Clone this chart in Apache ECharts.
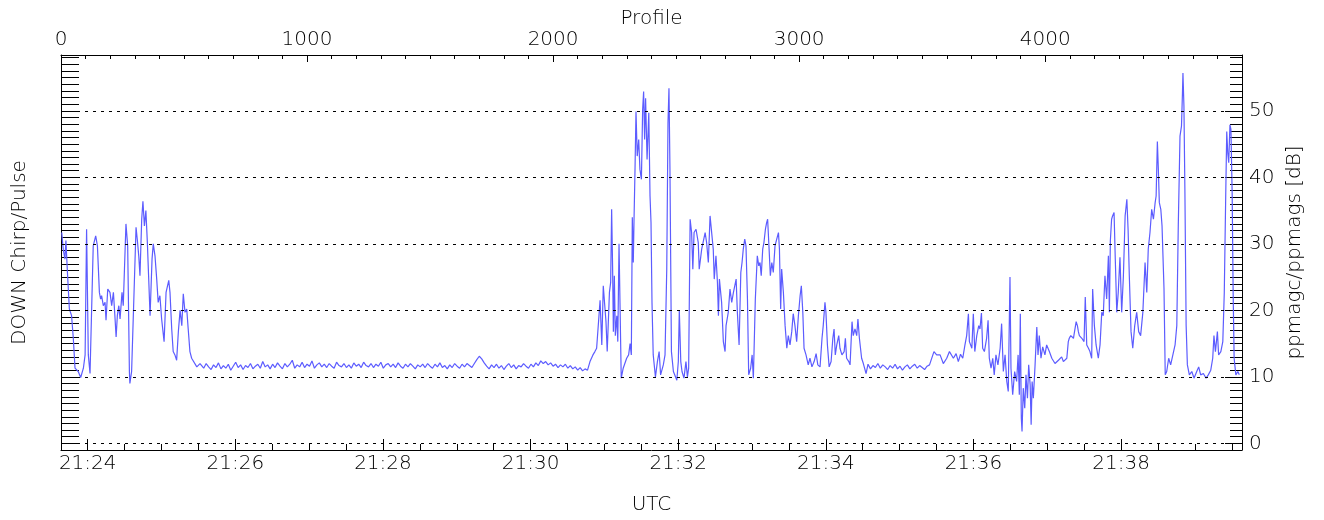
<!DOCTYPE html>
<html>
<head>
<meta charset="utf-8">
<script src="https://cdn.jsdelivr.net/npm/echarts@6/dist/echarts.min.js"></script>
<style>
  html, body { margin: 0; padding: 0; background: #fff; }
  #chart { width: 1324px; height: 520px; }
</style>
</head>
<body>
<div id="chart"></div>
<script>
// ---- tick labels ----
const profileLabels = [0, 1000, 2000, 3000, 4000];
const utcLabels = ['21:24', '21:26', '21:28', '21:30', '21:32', '21:34', '21:36', '21:38'];
const dbLabels = [0, 10, 20, 30, 40, 50];

// ---- ppmagc/ppmags ratio [dB] against profile number ----
const burstA = [
  [3,31.7],[9,29.2],[16,27.7],[20,30.5],[26,25.8],[34,20.2],[43,19.2],[50,15.8],[57,11.3],[70,10.8],
  [80,9.9],[91,11.3],[98,13.3],[104,32.2],[111,13.3],[118,10.5],[125,10.3],[131,29.7],[141,31.2],[148,29.7],
  [156,22.7],[161,21.7],[165,22.2],[172,20.7],[179,21.2],[183,18.5],[190,23.2],[199,22.7],[206,20.7],[213,22.7],
  [219,19.2],[224,16.0],[229,19.2],[235,20.7],[240,18.7],[248,22.7],[253,20.7],[264,33.0],[271,29.7],[278,10.8],
  [280,9.0],[287,10.8],[294,10.8],[305,32.5],[310,30.7],[316,28.2],[321,25.2],[328,33.7],[333,36.4],[339,32.7],
  [345,35.0],[351,30.2],[356,25.2],[362,19.2],[370,27.7],[375,30.0],[382,28.2],[389,24.7],[395,21.2],[402,22.2],
  [409,18.7],[419,15.3],[427,22.7],[438,24.5],[443,22.7],[450,17.2],[456,13.8],[463,13.3],[470,12.5],[477,16.8],
  [484,20.0],[491,17.7],[497,22.5],[504,19.7],[511,20.2],[517,17.2],[524,13.8],[531,12.8],[538,12.5],[552,11.5],
  [565,12.0]
];

// quiet stretch, one value every 10 profiles starting at profile 570
const calmA = { start: 570, step: 10, values: [
  11.9, 11.3, 12.0, 11.5, 11.1, 11.8, 11.4, 12.1, 11.2, 11.7,
  11.3, 11.9, 11.0, 11.6, 12.2, 11.4, 11.8, 11.1, 11.7, 11.4,
  12.0, 11.2, 11.6, 11.9, 11.3, 12.3, 11.5, 11.8, 11.2, 11.9,
  11.4, 12.1, 11.6, 11.2, 12.0, 11.5, 11.9, 12.5, 11.3, 11.8,
  11.5, 12.2, 11.4, 11.9, 11.6, 12.4, 11.3, 11.8, 12.1, 11.5,
  11.9, 11.4, 12.0, 11.6, 11.3, 12.2, 11.7, 11.5, 12.0, 11.4,
  11.8, 11.3, 12.1, 11.6, 11.9, 11.4, 12.2, 11.7, 11.5, 12.0,
  11.4, 11.9, 11.6, 12.2, 11.3, 11.8, 12.0, 11.5, 11.9, 11.4,
  12.1, 11.6, 11.3, 11.9, 11.5, 12.0, 11.6, 11.2, 11.8, 11.5,
  11.9, 11.4, 12.0, 11.6, 11.3, 11.9, 11.5, 12.1, 11.4, 11.7,
  11.2, 11.8, 11.4, 12.0, 11.6, 11.3, 11.9, 11.5, 12.0, 11.7,
  11.4, 12.0, 12.6, 13.1, 12.7, 12.1, 11.6, 11.2, 11.8, 11.4,
  11.9, 11.3, 11.7, 11.1, 11.6, 12.0, 11.4, 11.8, 11.2, 11.7,
  11.5, 12.0, 11.6, 11.3, 11.9, 11.5, 12.1, 11.7, 12.4, 12.0,
  12.3, 11.8, 12.1, 11.6, 11.9, 11.4, 11.8, 11.5, 11.9, 11.3,
  11.7, 11.2, 11.5, 11.0, 11.4, 10.9, 11.2, 11.0
]};

const burstB = [
  [2150,12.3],[2162,13.3],[2170,13.8],[2177,14.3],[2184,14.5],[2191,21.5],[2198,14.8],[2204,23.7],[2208,21.7],[2215,18.3],
  [2220,13.8],[2229,22.7],[2234,24.2],[2238,35.2],[2242,26.2],[2245,16.8],[2249,25.2],[2253,16.2],[2259,19.2],[2263,15.3],
  [2268,30.0],[2272,30.2],[2277,9.8],[2285,11.3],[2292,11.0],[2299,12.8],[2307,13.3],[2313,15.0],[2318,13.3],[2322,34.0],
  [2326,27.2],[2329,33.7],[2333,41.2],[2337,49.9],[2342,43.2],[2348,45.7],[2353,41.2],[2359,39.7],[2364,50.2],[2368,52.9],
  [2372,45.7],[2376,51.9],[2382,42.7],[2389,49.7],[2394,37.2],[2398,33.2],[2402,21.2],[2407,13.3],[2416,10.0],[2424,12.3],
  [2431,13.8],[2437,10.3],[2448,11.8],[2455,13.3],[2462,26.2],[2467,48.2],[2471,53.4],[2475,41.2],[2481,13.8],[2489,10.8],
  [2503,9.5],[2509,12.3],[2513,20.0],[2519,12.3],[2524,10.8],[2532,9.8],[2540,12.3],[2546,10.0],[2551,11.3],[2557,33.7],
  [2563,31.7],[2568,26.2],[2573,31.7],[2581,32.2],[2590,30.2],[2594,26.2],[2604,29.2],[2618,31.7],[2624,30.2],[2631,27.2],
  [2638,34.2],[2645,34.2],[2651,29.2],[2655,24.7],[2662,28.2],[2668,24.2],[2672,19.2],[2676,24.7],[2685,21.2],[2692,15.3],
  [2699,13.8],[2703,17.7],[2712,19.7],[2719,23.2],[2726,21.2],[2733,22.7],[2744,24.7],[2749,19.7],[2756,14.8],[2763,25.7],
  [2768,27.2],[2773,29.2],[2779,30.7],[2784,29.7],[2790,21.7],[2795,10.3],[2803,11.3],[2809,13.3],[2814,9.8],[2822,21.7],
  [2830,28.2],[2836,26.7],[2841,27.2],[2846,25.2],[2852,29.2],[2857,30.2],[2863,32.2],[2868,33.2],[2872,33.7],[2878,29.2],
  [2883,25.2],[2889,27.2],[2895,25.7],[2902,29.7],[2909,30.7],[2916,31.7],[2920,29.2],[2925,20.2],[2929,26.2],[2936,22.7],
  [2943,17.7],[2950,14.3],[2956,16.2],[2963,14.8],[2970,16.8],[2976,19.5],[2983,17.7],[2990,15.3],[2997,19.2],[3004,22.2],
  [3009,23.7],[3015,19.7],[3020,14.3],[3028,13.3],[3037,11.8],[3044,12.8],[3052,11.5],[3061,12.3],[3069,13.5],[3076,11.8],
  [3085,11.5],[3093,15.8],[3098,17.7],[3105,21.2],[3109,19.7],[3115,14.8],[3122,11.5],[3130,12.3],[3137,15.8],[3142,17.2],
  [3147,13.3],[3153,14.8],[3161,16.2],[3166,14.3],[3174,13.3],[3183,13.8],[3188,15.8],[3193,12.8],[3202,12.3],[3207,11.8],
  [3215,18.3],[3220,16.2],[3227,17.2],[3234,16.2],[3239,18.7],[3245,15.8],[3254,12.8],[3261,12.0],[3268,11.8],[3272,10.5]
];

const calmB = { start: 3280, step: 10, values: [
  11.9, 11.2, 11.7, 11.4, 12.0, 11.3, 11.8, 11.5, 11.1, 11.7,
  11.3, 11.9, 11.2, 11.6, 11.0, 11.5, 11.8, 11.2, 11.6, 11.9,
  11.3, 11.7, 11.4, 11.1, 11.6, 11.8
]};

const burstC = [
  [3548,13.8],[3559,13.3],[3573,13.3],[3586,12.0],[3600,12.8],[3611,13.8],[3627,12.8],[3638,13.5],[3647,12.3],[3656,13.4],
  [3665,12.8],[3674,14.8],[3681,16.2],[3688,19.5],[3692,15.3],[3702,14.3],[3708,19.5],[3714,13.8],[3722,16.2],[3730,17.7],
  [3735,17.2],[3741,19.6],[3746,14.3],[3753,13.8],[3762,15.8],[3768,18.5],[3773,12.8],[3780,11.3],[3787,12.8],[3793,10.3],
  [3800,13.3],[3808,11.8],[3817,14.3],[3823,18.0],[3830,10.8],[3837,13.3],[3844,9.3],[3850,7.8],[3857,25.0],[3861,11.3],
  [3868,7.3],[3876,10.8],[3884,9.3],[3890,13.3],[3895,7.3],[3899,19.5],[3903,3.8],[3906,1.8],[3911,8.3],[3917,5.3],
  [3922,10.3],[3928,6.8],[3933,11.8],[3939,8.8],[3943,2.8],[3947,9.3],[3952,6.8],[3959,11.8],[3966,17.5],[3971,13.3],
  [3976,16.2],[3983,12.8],[3990,14.5],[3999,13.3],[4006,14.8],[4017,13.8],[4027,12.8],[4040,12.0],[4054,12.5],[4067,13.0],
  [4074,12.3],[4081,12.3],[4088,12.8],[4094,15.3],[4098,15.8],[4104,16.2],[4115,15.8],[4118,16.5],[4126,18.3],[4131,17.7],
  [4135,16.8],[4139,16.2],[4149,15.8],[4158,15.3],[4163,22.0],[4169,14.8],[4176,14.3],[4182,13.8],[4189,12.8],[4193,23.2],
  [4200,17.7],[4207,14.8],[4216,12.8],[4223,14.8],[4230,19.7],[4236,19.2],[4243,25.2],[4250,21.7],[4257,28.2],[4261,19.7],
  [4265,30.5],[4270,33.7],[4274,34.2],[4280,34.7],[4285,27.7],[4291,19.7],[4297,22.7],[4304,28.0],[4311,19.7],[4318,25.2],
  [4325,34.2],[4332,36.7],[4337,32.2],[4342,25.2],[4349,16.8],[4356,14.3],[4364,17.7],[4372,19.7],[4380,16.8],[4388,16.2],
  [4397,19.7],[4406,27.2],[4413,22.7],[4419,29.2],[4426,31.7],[4433,35.2],[4440,33.7],[4447,36.2],[4451,37.2],[4456,45.4],
  [4460,41.2],[4464,36.2],[4470,35.2],[4475,32.7],[4483,23.2],[4488,10.3],[4494,10.8],[4502,12.8],[4510,11.8],[4519,13.3],
  [4528,14.8],[4535,17.7],[4541,32.7],[4548,46.2],[4554,47.7],[4558,52.7],[4560,55.7],[4564,50.7],[4568,37.7],[4573,17.7],
  [4578,11.8],[4586,10.3],[4596,10.8],[4605,9.8],[4616,10.8],[4624,11.5],[4632,10.3],[4643,10.5],[4654,9.8],[4663,10.3],
  [4673,11.0],[4681,12.8],[4686,16.2],[4692,13.8],[4700,16.8],[4705,13.3],[4714,13.8],[4722,15.3],[4728,22.7],[4734,37.7],
  [4738,46.9],[4742,43.7],[4746,42.2],[4751,47.9],[4755,47.2],[4760,37.7],[4764,22.7],[4768,12.8],[4775,10.3],[4783,10.8],
  [4789,10.3]
];

// ---- axis ranges ----
const PROFILE_MAX = 4800;
const UTC_MIN = 1418.3;             // seconds after 21:00 UTC at profile 0
const UTC_MAX = UTC_MIN + 960;      // 5 profiles per second
const DB_MIN = -1, DB_MAX = 58.4;

const runPairs = run => run.values.map((v, i) => [run.start + i * run.step, v]);
const trace = [].concat(burstA, runPairs(calmA), burstB, runPairs(calmB), burstC);

// tick positions
const secOf = s => { const [h, m] = s.split(':').map(Number); return (h - 21) * 3600 + m * 60; };
const utcMajor = utcLabels.map(secOf);
const utcMinor = [];
for (let t = utcMajor[0]; t <= UTC_MAX; t += 30) if (!utcMajor.includes(t)) utcMinor.push(t);
const profileMinor = [];
for (let p = 100; p < PROFILE_MAX; p += 100) if (p % 1000) profileMinor.push(p);
const dbMinor = [];
for (let v = Math.ceil(DB_MIN); v <= Math.floor(DB_MAX); v++) dbMinor.push(v);

const FONT = "'DejaVu Sans', sans-serif";
const INK = '#000';
const labelStyle = { color: INK, fontFamily: FONT, fontSize: 20, fontWeight: 200 };
const nameStyle = { color: INK, fontFamily: FONT, fontSize: 20, fontWeight: 200 };
const line = show => ({ show, onZero: false, lineStyle: { color: INK, width: 1 } });
const off = { show: false };
const axisName = (name, gap) => ({
  name, nameLocation: 'middle', nameGap: gap, nameMoveOverlap: false, nameTextStyle: nameStyle
});

const chart = echarts.init(document.getElementById('chart'), null, { renderer: 'canvas' });
chart.setOption({
  animation: false,
  backgroundColor: '#fff',
  grid: { left: 61, right: 82, top: 55, bottom: 68, containLabel: false },
  xAxis: [
    { // Profile, labelled ticks
      type: 'value', position: 'top', min: 0, max: PROFILE_MAX,
      axisLine: line(true),
      axisTick: { show: true, inside: true, length: 7, customValues: profileLabels, lineStyle: { color: INK } },
      axisLabel: { ...labelStyle, margin: 5, customValues: profileLabels, formatter: v => String(v) },
      splitLine: off,
      ...axisName('Profile', 26)
    },
    { // Profile, minor ticks
      type: 'value', position: 'top', min: 0, max: PROFILE_MAX,
      axisLine: line(false),
      axisTick: { show: true, inside: true, length: 4, customValues: profileMinor, lineStyle: { color: INK } },
      axisLabel: off, splitLine: off
    },
    { // UTC, labelled ticks
      type: 'value', position: 'bottom', min: UTC_MIN, max: UTC_MAX,
      axisLine: line(true),
      axisTick: { show: true, inside: true, length: 11, customValues: utcMajor, lineStyle: { color: INK } },
      axisLabel: { ...labelStyle, margin: 4, customValues: utcMajor,
        formatter: v => utcLabels[utcMajor.indexOf(Math.round(v))] || '' },
      splitLine: off,
      ...axisName('UTC', 45)
    },
    { // UTC, 30 s ticks
      type: 'value', position: 'bottom', min: UTC_MIN, max: UTC_MAX,
      axisLine: line(false),
      axisTick: { show: true, inside: true, length: 6, customValues: utcMinor, lineStyle: { color: INK } },
      axisLabel: off, splitLine: off
    }
  ],
  yAxis: [
    { // ratio in dB, right side
      type: 'value', position: 'right', min: DB_MIN, max: DB_MAX,
      axisLine: line(true),
      axisTick: { show: true, inside: true, length: 17, customValues: dbLabels, lineStyle: { color: INK } },
      axisLabel: { ...labelStyle, margin: 7, customValues: dbLabels, formatter: v => String(v) },
      splitLine: off,
      ...axisName('ppmagc/ppmags [dB]', 43)
    },
    { // 1 dB ticks, right side
      type: 'value', position: 'right', min: DB_MIN, max: DB_MAX,
      axisLine: line(false),
      axisTick: { show: true, inside: true, length: 12, customValues: dbMinor, lineStyle: { color: INK } },
      axisLabel: off, splitLine: off
    },
    { // left side: ticks only
      type: 'value', position: 'left', min: DB_MIN, max: DB_MAX,
      axisLine: line(true),
      axisTick: { show: true, inside: true, length: 18, customValues: dbMinor, lineStyle: { color: INK } },
      axisLabel: off, splitLine: off,
      ...axisName('DOWN Chirp/Pulse', 31)
    }
  ],
  series: [
    { // dotted reference levels
      type: 'line', xAxisIndex: 0, yAxisIndex: 0, data: [], silent: true, z: 1,
      markLine: {
        silent: true, animation: false, symbol: ['none', 'none'], label: { show: false },
        lineStyle: { color: INK, type: [3, 5], width: 1 },
        emphasis: { disabled: true },
        data: dbLabels.map(v => ({ yAxis: v }))
      }
    },
    {
      name: 'ppmagc/ppmags', type: 'line', xAxisIndex: 0, yAxisIndex: 0, z: 2,
      data: trace, showSymbol: false, symbol: 'none', sampling: null,
      lineStyle: { color: '#5c5cff', width: 1.2 },
      emphasis: { disabled: true }
    }
  ]
});
</script>
</body>
</html>
